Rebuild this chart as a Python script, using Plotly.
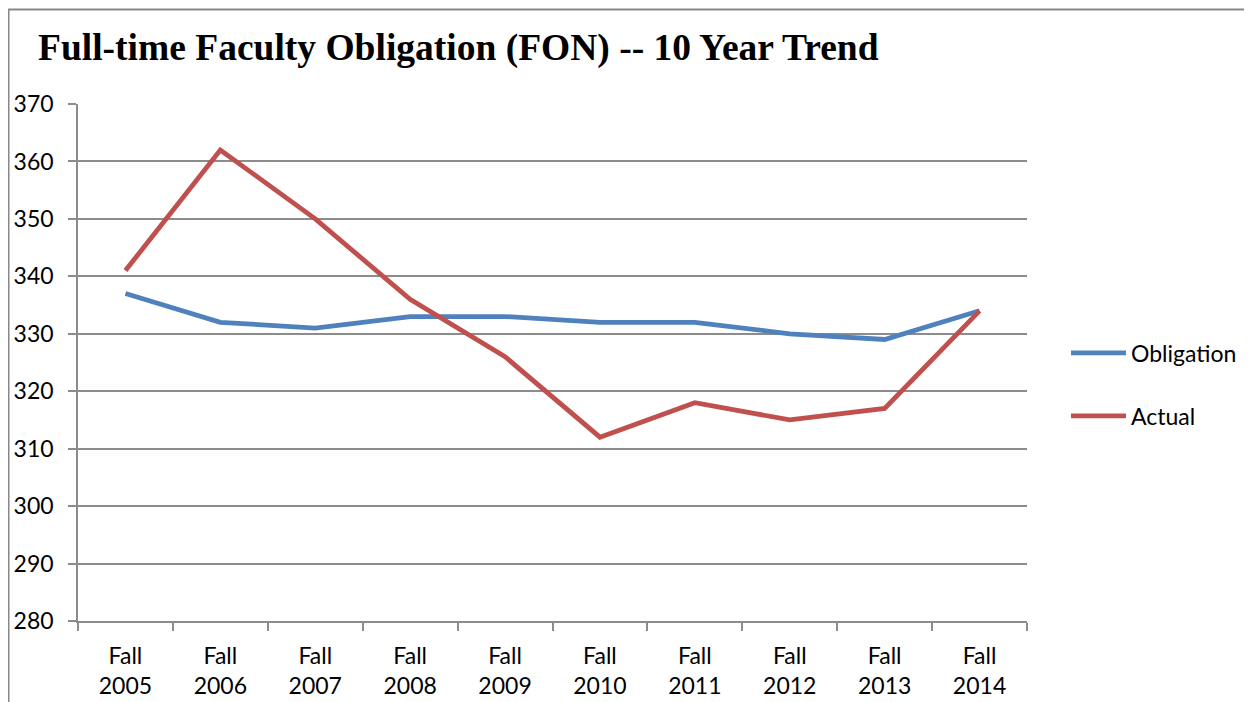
import plotly.graph_objects as go

categories = ["Fall<br>2005", "Fall<br>2006", "Fall<br>2007", "Fall<br>2008", "Fall<br>2009",
              "Fall<br>2010", "Fall<br>2011", "Fall<br>2012", "Fall<br>2013", "Fall<br>2014"]
obligation = [337, 332, 331, 333, 333, 332, 332, 330, 329, 334]
actual = [341, 362, 350, 336, 326, 312, 318, 315, 317, 334]
y_ticks = [280, 290, 300, 310, 320, 330, 340, 350, 360, 370]

# page has an 8px body margin; work in page coords and shift
OFF = 8
W, H = 1252 - OFF, 702 - OFF
L, R, T, B = 78 - OFF, 1027 - OFF, 104 - OFF, 621 - OFF

def px(xp):
    return (xp - OFF - L) / (R - L)

def py(yp):
    return (B - (yp - OFF)) / (B - T)

FONT = "Lato"
GRID = "#8c8c8c"

fig = go.Figure()
fig.add_trace(go.Scatter(x=categories, y=obligation, name="Obligation", mode="lines",
                         line=dict(color="#4F81BD", width=4.8), legend="legend"))
fig.add_trace(go.Scatter(x=categories, y=actual, name="Actual", mode="lines",
                         line=dict(color="#C0504D", width=4.8), legend="legend2"))

fig.update_layout(
    width=W, height=H,
    margin=dict(l=L, r=W - R, t=T, b=H - B, autoexpand=False),
    paper_bgcolor="white", plot_bgcolor="white",
    font=dict(family=FONT, size=23, color="black"),
    title=dict(text="<b>Full-time Faculty Obligation (FON) -- 10 Year Trend</b>",
               font=dict(family="Liberation Serif", size=37.5, color="black"),
               xref="container", x=(38 - OFF) / W, xanchor="left",
               yref="container", y=1 - (47 - OFF) / H, yanchor="middle"),
    showlegend=True,
    legend=dict(x=px(1066), y=py(353), xanchor="left", yanchor="middle",
                bgcolor="rgba(0,0,0,0)", itemwidth=55, font=dict(size=23)),
    legend2=dict(x=px(1066), y=py(416), xanchor="left", yanchor="middle",
                 bgcolor="rgba(0,0,0,0)", itemwidth=55, font=dict(size=23)),
    xaxis=dict(range=[-0.5, 9.5], showgrid=False, showline=True, linecolor=GRID, linewidth=1.5,
               ticks="outside", tickson="boundaries", ticklen=8, tickcolor=GRID, tickwidth=1.5,
               ticklabelstandoff=14, tickfont=dict(size=23), fixedrange=True),
    yaxis=dict(range=[280, 370], tickvals=y_ticks, showgrid=True, gridcolor=GRID, gridwidth=1.5,
               showline=True, linecolor=GRID, linewidth=1.5, zeroline=False,
               ticks="outside", ticklen=8, tickcolor=GRID, tickwidth=1.5,
               ticklabelstandoff=10, tickfont=dict(size=23), fixedrange=True),
    shapes=[
        dict(type="line", xref="paper", yref="paper", x0=px(8), x1=px(1260), y0=py(9.5), y1=py(9.5),
             line=dict(color="#888888", width=2)),
        dict(type="line", xref="paper", yref="paper", x0=px(8.5), x1=px(8.5), y0=py(9.5), y1=py(710),
             line=dict(color="#888888", width=2)),
    ],
)

fig.write_html("out.html")
